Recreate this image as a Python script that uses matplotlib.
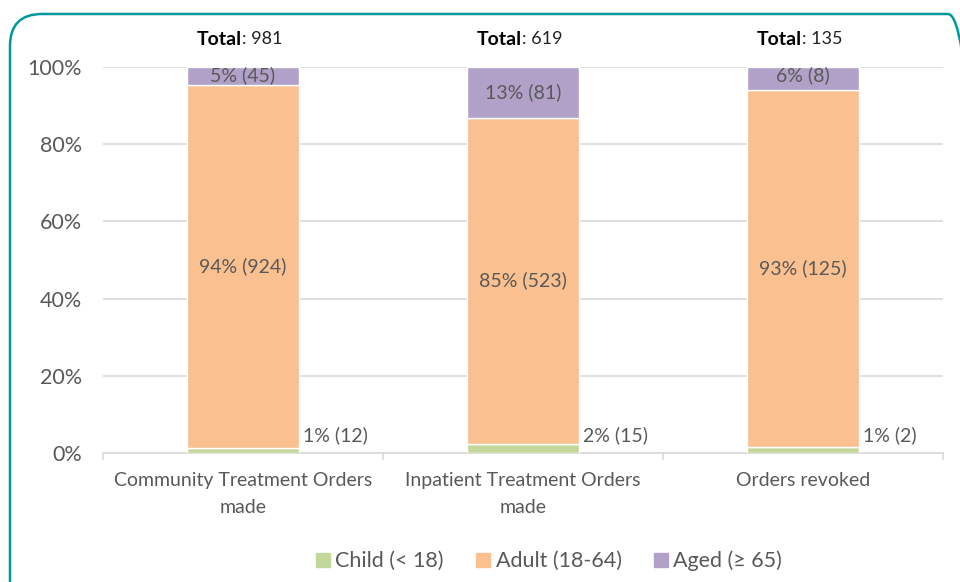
import numpy as np
import matplotlib
matplotlib.use('Agg')
import matplotlib.pyplot as plt
from matplotlib.patches import Patch, FancyBboxPatch
from matplotlib.ticker import PercentFormatter, FixedLocator

plt.rcParams['font.family'] = ['Lato', 'DejaVu Sans']

# data
categories = ['Community Treatment Orders\nmade', 'Inpatient Treatment Orders\nmade', 'Orders revoked']
child = np.array([12, 15, 2])
adult = np.array([924, 523, 125])
aged = np.array([45, 81, 8])
# percentages as printed on the chart
child_pct = [1, 2, 1]
adult_pct = [94, 85, 93]
aged_pct = [5, 13, 6]
series_names = ['Child (< 18)', 'Adult (18-64)', 'Aged (\u2265 65)']
colors = ['#C4D79B', '#FAC090', '#B1A0C7']

total = child + adult + aged
p_child = child / total
p_adult = adult / total
p_aged = aged / total

text_col = '#595959'

fig = plt.figure(figsize=(9.6, 5.82), dpi=100)
ax = fig.add_axes([103/960, 129/582, 840/960, 386/582])

x = np.arange(len(categories))
w = 0.40
ax.bar(x, p_child, w, color=colors[0], edgecolor='white', linewidth=1, zorder=3)
ax.bar(x, p_adult, w, bottom=p_child, color=colors[1], edgecolor='white', linewidth=1, zorder=3)
ax.bar(x, p_aged, w, bottom=p_child + p_adult, color=colors[2], edgecolor='white', linewidth=1, zorder=3)

# labels on the bars
for i in range(len(x)):
    ax.text(x[i] + w/2 + 0.015, 0.045, f'{child_pct[i]}% ({child[i]})', ha='left', va='center',
            fontsize=14, color=text_col, zorder=4)
    ax.text(x[i], p_child[i] + p_adult[i]/2, f'{adult_pct[i]}% ({adult[i]})', ha='center', va='center',
            fontsize=14, color=text_col, zorder=4)
    ax.text(x[i], 1 - p_aged[i]/2 if p_aged[i] > 0.08 else 0.978, f'{aged_pct[i]}% ({aged[i]})',
            ha='center', va='center', fontsize=14, color=text_col, zorder=4)
    # Total header
    ax.annotate('Total', xy=(x[i] - 0.005, 1), xytext=(0, 20), textcoords='offset points',
                ha='right', va='center', fontsize=14, fontweight='bold', color='black')
    ax.annotate(f': {total[i]}', xy=(x[i] - 0.005, 1), xytext=(0, 20), textcoords='offset points',
                ha='left', va='center', fontsize=13, color='#222222')

ax.set_xlim(-0.5, 2.5)
ax.set_ylim(0, 1)
ax.yaxis.set_major_locator(FixedLocator([0, 0.2, 0.4, 0.6, 0.8, 1.0]))
ax.yaxis.set_major_formatter(PercentFormatter(1.0, decimals=0))
ax.grid(axis='y', color='#D9D9D9', linewidth=1.2, zorder=0)
ax.set_axisbelow(True)

ax.set_xticks(x)
ax.set_xticklabels(categories, fontsize=14, color=text_col, linespacing=1.7)
ax.set_xticks([-0.5, 0.5, 1.5, 2.5], minor=True)
ax.tick_params(axis='x', which='major', length=0, pad=14)
ax.tick_params(axis='x', which='minor', length=5, color='#D9D9D9', width=1.2)
ax.tick_params(axis='y', length=0, labelsize=15.5, labelcolor=text_col, pad=15)

for s in ['top', 'right', 'left']:
    ax.spines[s].set_visible(False)
ax.spines['bottom'].set_color('#D9D9D9')
ax.spines['bottom'].set_linewidth(1.2)

handles = [Patch(color=c, label=n) for c, n in zip(colors, series_names)]
fig.legend(handles=handles, loc='center', bbox_to_anchor=(0.572, 0.036), ncol=3, frameon=False,
           fontsize=15.5, labelcolor=text_col, handlelength=0.65, handleheight=0.65,
           handletextpad=0.25, columnspacing=1.5)

# teal rounded border
border = FancyBboxPatch((0.10, -0.6), 9.7, 6.28, boxstyle='round,pad=0,rounding_size=0.32',
                        transform=fig.dpi_scale_trans, facecolor='none', edgecolor='#00979D',
                        linewidth=1.8)
fig.add_artist(border)

fig.savefig('out.png', dpi=100)
